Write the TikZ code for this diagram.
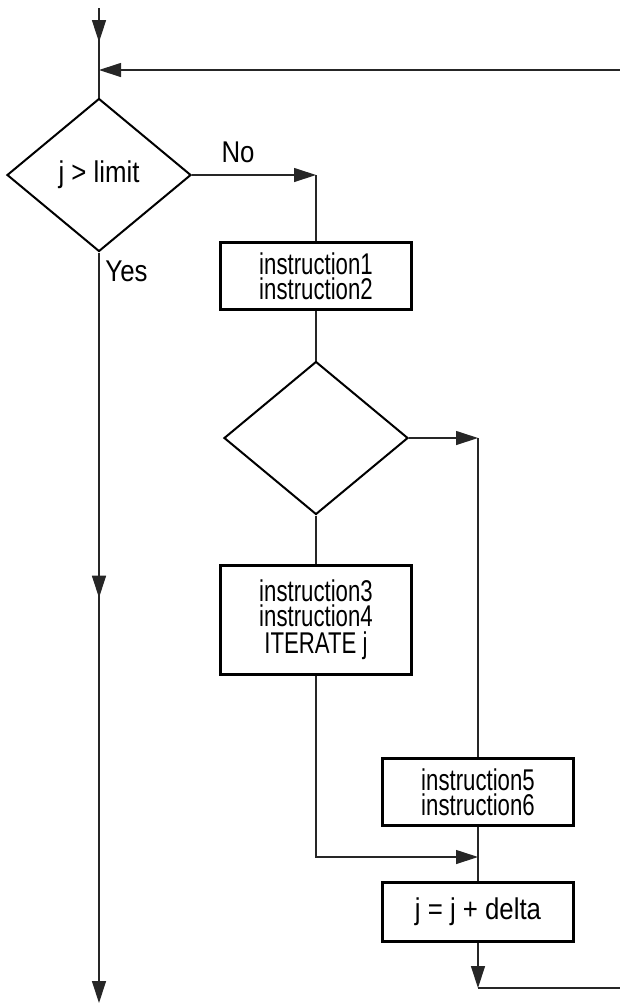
\documentclass[tikz,border=0pt]{standalone}
\usepackage{fontspec}
\setmainfont[FakeStretch=0.86]{Liberation Sans}
\newfontfamily\instrfont[FakeStretch=0.74]{Liberation Sans}
\usetikzlibrary{shapes.geometric,arrows.meta,decorations.markings}
\begin{document}
\begin{tikzpicture}[
            x=0.5pt, y=-0.5pt,
            >={Triangle[length=11pt,width=7pt]},
            decision/.style={diamond, draw, line width=1pt, inner sep=0pt, minimum width=92pt, minimum height=76.5pt, font=\fontsize{15}{15}\selectfont},
            instr/.style={rectangle, draw, line width=1.3pt, minimum width=95.5pt, align=center, font=\instrfont\fontsize{15}{12.5}\selectfont},
            tag/.style={font=\fontsize{15}{15}\selectfont, inner sep=0pt},
            flow/.style={line width=0.6pt, draw=black!85},
            midarrow/.style={postaction={decorate}, decoration={markings, mark=at position #1 with {\arrow{>}}}}
        ]
            \useasboundingbox (0,0) rectangle (620,1003);
            \node[decision] (cond) at (99,175) {j > limit};
            \node[instr, minimum height=33.5pt] (ins12) at (316,276) {instruction1\\instruction2};
            \node[decision] (test) at (316,438) {};
            \node[instr, minimum height=54.5pt] (ins34) at (316,620) {instruction3\\instruction4\\[1pt]ITERATE j};
            \node[instr, minimum height=33.5pt] (ins56) at (478,792) {instruction5\\instruction6};
            \node[instr, minimum height=29.5pt, font=\fontsize{15}{15}\selectfont] (incr) at (478,912) {j = j + delta};
            \node[tag] (nolab) at (238,152) {No};
            \node[tag, anchor=west] (yeslab) at (105,271) {Yes};
            \coordinate (entry) at (99,8);
            \coordinate (merge) at (99,70);
            \coordinate (back) at (620,70);
            \coordinate (nojoin) at (316,175);
            \coordinate (yesr) at (478,438);
            \coordinate (join) at (478,857);
            \coordinate (loop) at (478,988);
            \coordinate (out) at (620,988);
            \coordinate (exit) at (99,1003);
            \draw[flow, midarrow=0.55] (entry) -- (merge);
            \draw[flow, ->] (back) -- (merge);
            \draw[flow] (merge) -- (cond);
            \draw[flow, ->, midarrow=0.46] (cond) -- (exit);
            \draw[flow, ->] (cond) -- (nojoin);
            \draw[flow] (nojoin) -- (ins12);
            \draw[flow] (ins12) -- (test);
            \draw[flow, ->] (test) -- (yesr);
            \draw[flow] (yesr) -- (ins56);
            \draw[flow] (test) -- (ins34);
            \draw[flow, ->] (ins34) |- (join);
            \draw[flow] (ins56) -- (incr);
            \draw[flow, ->] (incr) -- (loop);
            \draw[flow] (loop) -- (out);
        \end{tikzpicture}
\end{document}
